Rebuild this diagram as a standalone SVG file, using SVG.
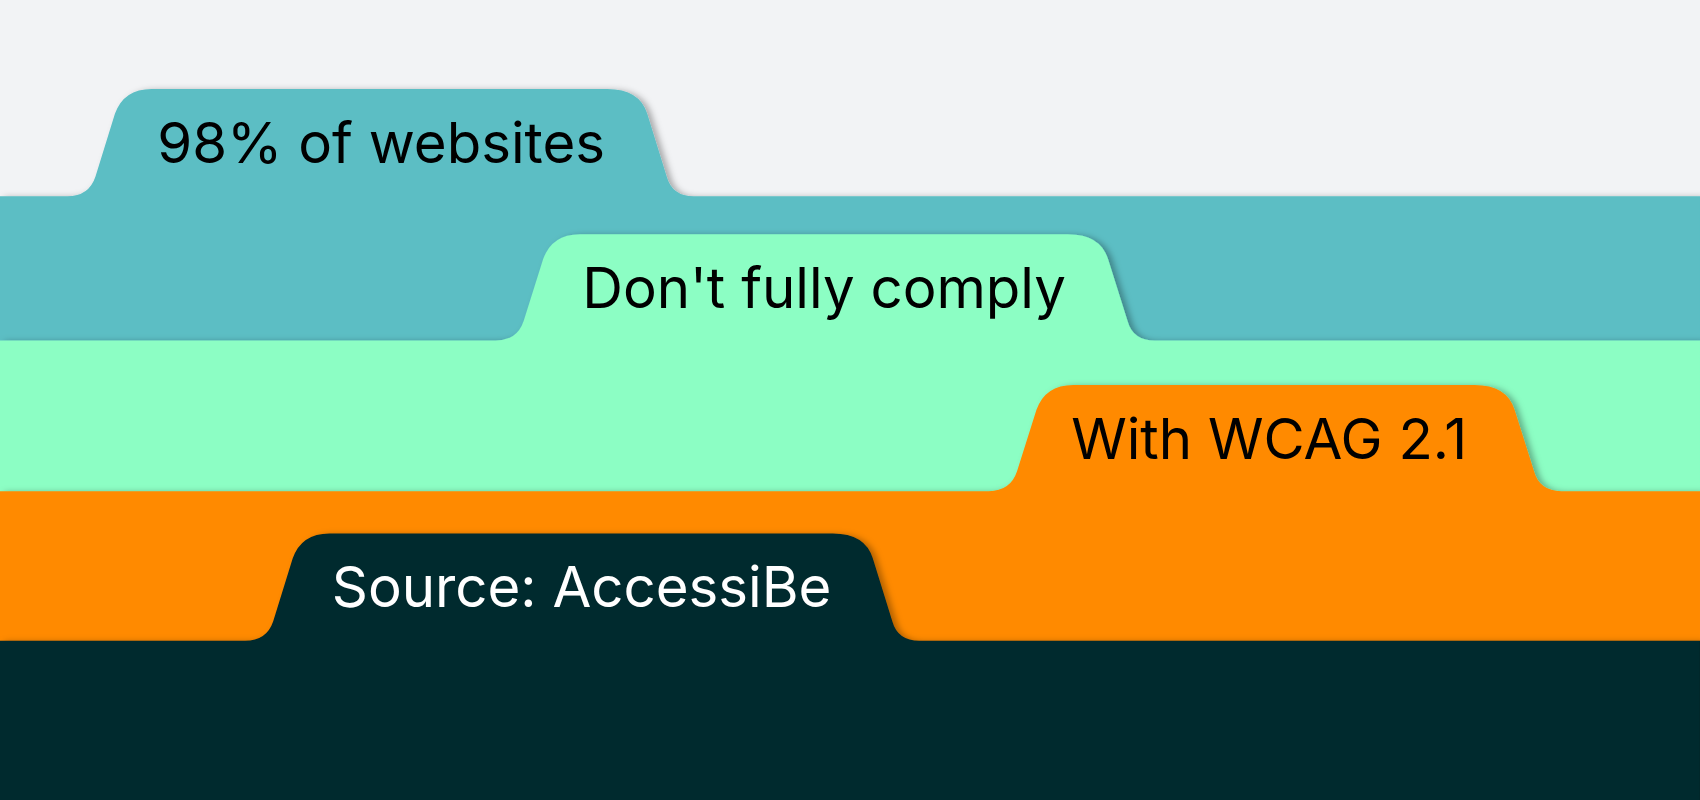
<svg xmlns="http://www.w3.org/2000/svg" width="1700" height="800" viewBox="0 0 1700 800">
<defs>
<filter id="sh" x="-5%" y="-20%" width="110%" height="140%"><feDropShadow dx="4" dy="1" stdDeviation="3" flood-color="#000" flood-opacity="0.3"/></filter>
<style>text{font-family:Inter,"Liberation Sans",sans-serif;font-size:52px}</style>
</defs>
<rect width="1700" height="800" fill="#f2f3f5"/>
<g transform="scale(1.08418)">
<g id="layer1" filter="url(#sh)"><path fill="#5bbec4" d="M0,181 H62 Q82,181 88,163 L106,105 Q114,82 140,82 H560 Q590,82 597,105 L615,163 Q620,181 640,181 H1568 V738 H0 Z"/>
<text x="145" y="150" fill="#000">98% of websites</text></g>
<g id="layer2" filter="url(#sh)"><path fill="#8cfec4" d="M0,314 H457 Q477,314 483,296 L501,239 Q509,216 535,216 H985 Q1015,216 1022,239 L1040,296 Q1045,314 1065,314 H1568 V738 H0 Z"/>
<text x="537" y="284" fill="#000">Don't fully comply</text></g>
<g id="layer3" filter="url(#sh)"><path fill="#ff8a00" d="M0,453 H912 Q932,453 938,435 L956,378 Q964,355 990,355 H1360 Q1390,355 1397,378 L1415,435 Q1420,453 1440,453 H1568 V738 H0 Z"/>
<text x="988" y="423" fill="#000">With WCAG 2.1</text></g>
<g id="layer4" filter="url(#sh)"><path fill="#04292d" d="M0,591 H226 Q246,591 252,573 L270,515 Q278,492 304,492 H768 Q798,492 805,515 L823,573 Q828,591 848,591 H1568 V738 H0 Z"/>
<text x="306" y="560" fill="#fff">Source: AccessiBe</text></g>
</g>
</svg>
